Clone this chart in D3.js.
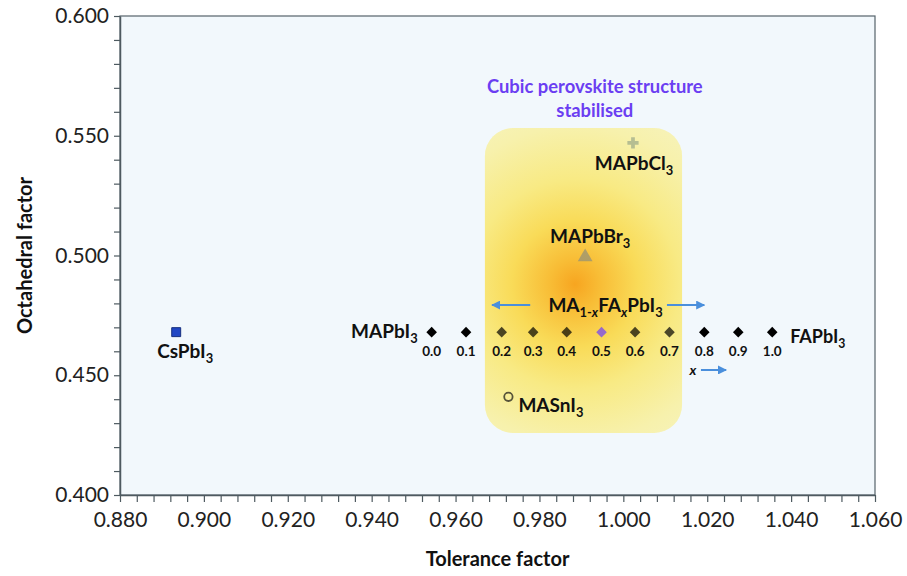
<!DOCTYPE html>
<html>
<head>
<meta charset="utf-8">
<script src="https://cdn.jsdelivr.net/npm/d3@7"></script>
<style>
  body { margin: 0; background: #fff; }
  svg { display: block; }
  text { font-family: Lato, "Open Sans", sans-serif; }
</style>
</head>
<body>
<svg id="chart" width="907" height="576"></svg>
<script>
// Tolerance / octahedral factors of lead and tin halide perovskites
const xDomain = [0.880, 1.060];
const yDomain = [0.400, 0.600];
const xMajorTicks = [0.880, 0.900, 0.920, 0.940, 0.960, 0.980, 1.000, 1.020, 1.040, 1.060];
const yMajorTicks = [0.400, 0.450, 0.500, 0.550, 0.600];

// MA(1-x)FA(x)PbI3 solid solution
const mixFractions = ["0.0", "0.1", "0.2", "0.3", "0.4", "0.5", "0.6", "0.7", "0.8", "0.9", "1.0"];
const mixTolerance = [0.9543, 0.9625, 0.9710, 0.9785, 0.9865, 0.9948, 1.0028, 1.0110, 1.0193, 1.0274, 1.0355];
const mixOctahedral = [0.468, 0.468, 0.468, 0.468, 0.468, 0.468, 0.468, 0.468, 0.468, 0.468, 0.468];

// Single compounds
const compounds = ["CsPbI3", "MAPbCl3", "MAPbBr3", "MASnI3"];
const compoundTolerance = [0.8934, 1.0023, 0.9909, 0.9726];
const compoundOctahedral = [0.468, 0.547, 0.4994, 0.441];

// Cubic-stable window (tolerance range, octahedral range)
const cubicTolerance = [0.9670, 1.0140];
const cubicOctahedral = [0.4259, 0.5532];

const svg = d3.select("#chart");
const W = 907, H = 576;
const margin = { left: 120, right: 32, top: 16, bottom: 81 };

const x = d3.scaleLinear().domain(xDomain).range([margin.left, W - margin.right]);
const y = d3.scaleLinear().domain(yDomain).range([H - margin.bottom, margin.top]);

const defs = svg.append("defs");
const grad = defs.append("radialGradient")
  .attr("id", "glow")
  .attr("gradientUnits", "userSpaceOnUse")
  .attr("cx", x(0.9885)).attr("cy", y(0.4880))
  .attr("r", 210);
[[0, "#f7a520"], [0.12, "#f8bd36"], [0.3, "#f9db58"], [0.5, "#f8ea84"], [0.75, "#f7f1ac"], [1, "#f6f4c4"]]
  .forEach(([o, c]) => grad.append("stop").attr("offset", o).attr("stop-color", c));

const arrowDef = defs.append("marker")
  .attr("id", "arrowHead")
  .attr("viewBox", "0 0 10 10")
  .attr("refX", 9).attr("refY", 5)
  .attr("markerWidth", 4.5).attr("markerHeight", 4.5)
  .attr("orient", "auto-start-reverse");
arrowDef.append("path").attr("d", "M0,0 L10,5 L0,10 z").attr("fill", "#4a8fdc");

// plot area
svg.append("rect")
  .attr("x", x(xDomain[0])).attr("y", y(yDomain[1]))
  .attr("width", x(xDomain[1]) - x(xDomain[0]))
  .attr("height", y(yDomain[0]) - y(yDomain[1]))
  .attr("fill", "#f2f8fc")
  .attr("stroke", "#55636a").attr("stroke-width", 1.2);

// highlighted window
function cubicBox(g, opacity) {
  g.append("rect")
    .attr("x", x(cubicTolerance[0])).attr("y", y(cubicOctahedral[1]))
    .attr("width", x(cubicTolerance[1]) - x(cubicTolerance[0]))
    .attr("height", y(cubicOctahedral[0]) - y(cubicOctahedral[1]))
    .attr("rx", 28).attr("ry", 28)
    .attr("fill", "url(#glow)")
    .attr("opacity", opacity);
}
cubicBox(svg.append("g"), 1);

// axes
const xMinor = d3.range(0, 46).map(i => +(xDomain[0] + i * 0.004).toFixed(3));
const yMinor = d3.range(0, 21).map(i => +(yDomain[0] + i * 0.01).toFixed(3));
const isMajor = (v, list) => list.some(t => Math.abs(t - v) < 1e-9);

const xAxis = svg.append("g")
  .attr("transform", `translate(0,${y(yDomain[0])})`)
  .call(d3.axisBottom(x).tickValues(xMinor).tickSize(7).tickSizeOuter(0)
    .tickFormat(v => isMajor(v, xMajorTicks) ? d3.format(".3f")(v) : ""));
xAxis.select(".domain").attr("stroke", "#4e5a60").attr("stroke-width", 1.5);
xAxis.selectAll(".tick line").attr("stroke", "#4e5a60").attr("stroke-width", 1.2);
xAxis.selectAll(".tick text").attr("font-size", 21).attr("fill", "#222").attr("dy", "1.05em")
  .attr("font-family", "Lato, sans-serif");

const yAxis = svg.append("g")
  .attr("transform", `translate(${x(xDomain[0])},0)`)
  .call(d3.axisLeft(y).tickValues(yMinor).tickSize(6).tickSizeOuter(0)
    .tickFormat(v => isMajor(v, yMajorTicks) ? d3.format(".3f")(v) : ""));
yAxis.select(".domain").attr("stroke", "#4e5a60").attr("stroke-width", 1.5);
yAxis.selectAll(".tick line").attr("stroke", "#4e5a60").attr("stroke-width", 1.2);
yAxis.selectAll(".tick text").attr("font-size", 21).attr("fill", "#222").attr("x", -11)
  .attr("font-family", "Lato, sans-serif");

// axis titles
svg.append("text")
  .attr("x", x(0.970)).attr("y", 566)
  .attr("text-anchor", "middle")
  .attr("font-size", 20).attr("font-weight", 700).attr("fill", "#111")
  .text("Tolerance factor");
svg.append("text")
  .attr("transform", `translate(32,${y(0.5)}) rotate(-90)`)
  .attr("text-anchor", "middle")
  .attr("font-size", 20).attr("font-weight", 700).attr("fill", "#111")
  .text("Octahedral factor");

// markers
const marks = svg.append("g");
const diamond = d3.symbol().type(d3.symbolSquare).size(56);
marks.selectAll("path.mix")
  .data(mixTolerance)
  .join("path")
  .attr("class", "mix")
  .attr("d", diamond)
  .attr("transform", (d, i) => `translate(${x(d)},${y(mixOctahedral[i])}) rotate(45)`)
  .attr("fill", (d, i) => mixFractions[i] === "0.5" ? "#6c3cff" : "#000");

// CsPbI3
marks.append("path")
  .attr("d", d3.symbol().type(d3.symbolSquare).size(80))
  .attr("transform", `translate(${x(compoundTolerance[0])},${y(compoundOctahedral[0])})`)
  .attr("fill", "#2147c4").attr("stroke", "#17307f").attr("stroke-width", 1);
// MAPbCl3
marks.append("path")
  .attr("d", d3.symbol().type(d3.symbolCross).size(70))
  .attr("transform", `translate(${x(compoundTolerance[1])},${y(compoundOctahedral[1])})`)
  .attr("fill", "#9aa888");
// MAPbBr3
marks.append("path")
  .attr("d", d3.symbol().type(d3.symbolTriangle).size(95))
  .attr("transform", `translate(${x(compoundTolerance[2])},${y(compoundOctahedral[2])})`)
  .attr("fill", "#8f8f7a");
// MASnI3
marks.append("circle")
  .attr("cx", x(compoundTolerance[3])).attr("cy", y(compoundOctahedral[3]))
  .attr("r", 4.2)
  .attr("fill", "none").attr("stroke", "#111").attr("stroke-width", 1.8);

// translucent layer of the window over the markers
cubicBox(svg.append("g"), 0.3);

// labels
function chem(parent, px, py, parts, opts = {}) {
  const size = opts.size || 19;
  const t = parent.append("text")
    .attr("x", px).attr("y", py)
    .attr("font-size", size)
    .attr("font-weight", 700)
    .attr("fill", opts.fill || "#111")
    .attr("text-anchor", opts.anchor || "start");
  let shifted = false;
  parts.forEach(p => {
    const [str, kind, ital] = p;
    const s = t.append("tspan").text(str);
    if (kind === "sub") {
      s.attr("font-size", size * 0.68);
      if (!shifted) { s.attr("dy", 5); shifted = true; }
    } else if (shifted) {
      s.attr("dy", -5); shifted = false;
    }
    if (ital) s.attr("font-style", "italic");
  });
  return t;
}
const lab = svg.append("g");

chem(lab, x(mixTolerance[0]) - 14, y(mixOctahedral[0]) + 6, [["MAPbI"], ["3", "sub"]], { anchor: "end" });
chem(lab, x(mixTolerance[10]) + 18, y(mixOctahedral[10]) + 11, [["FAPbI"], ["3", "sub"]], { size: 18 });
chem(lab, x(compoundTolerance[0]) + 9, y(compoundOctahedral[0]) + 26, [["CsPbI"], ["3", "sub"]], { anchor: "middle" });
chem(lab, x(compoundTolerance[1]) + 1, y(compoundOctahedral[1]) + 27, [["MAPbCl"], ["3", "sub"]], { anchor: "middle" });
chem(lab, x(compoundTolerance[2]) + 5, y(compoundOctahedral[2]) - 14, [["MAPbBr"], ["3", "sub"]], { anchor: "middle" });
chem(lab, x(compoundTolerance[3]) + 10, y(compoundOctahedral[3]) + 15, [["MASnI"], ["3", "sub"]]);
chem(lab, x(0.9948) + 4, y(0.4793) + 7, [["MA"], ["1-", "sub"], ["x", "sub", true], ["FA"], ["x", "sub", true], ["PbI"], ["3", "sub"]], { anchor: "middle" });

lab.selectAll("text.frac")
  .data(mixFractions)
  .join("text")
  .attr("class", "frac")
  .attr("x", (d, i) => x(mixTolerance[i]))
  .attr("y", (d, i) => y(mixOctahedral[i]) + 24)
  .attr("text-anchor", "middle")
  .attr("font-size", 13.5).attr("font-weight", 700).attr("fill", "#111")
  .text(d => d);

lab.append("text")
  .attr("x", x(1.0166)).attr("y", y(0.4522) + 5)
  .attr("text-anchor", "middle")
  .attr("font-size", 14).attr("font-weight", 700).attr("font-style", "italic").attr("fill", "#111")
  .text("x");

// arrows
const arrows = [
  [0.9778, 0.9687, 0.4793],
  [1.0104, 1.0193, 0.4793],
  [1.0185, 1.0245, 0.4522]
];
lab.selectAll("line.arrow")
  .data(arrows)
  .join("line")
  .attr("class", "arrow")
  .attr("x1", d => x(d[0])).attr("x2", d => x(d[1]))
  .attr("y1", d => y(d[2])).attr("y2", d => y(d[2]))
  .attr("stroke", "#4a8fdc").attr("stroke-width", 2)
  .attr("marker-end", "url(#arrowHead)");

// window caption
const cap = lab.append("text")
  .attr("text-anchor", "middle")
  .attr("font-size", 18.4).attr("font-weight", 700).attr("fill", "#6b3ef2");
cap.append("tspan").attr("x", x(0.9932)).attr("y", 93).text("Cubic perovskite structure");
cap.append("tspan").attr("x", x(0.9932)).attr("y", 117).text("stabilised");
</script>
</body>
</html>
